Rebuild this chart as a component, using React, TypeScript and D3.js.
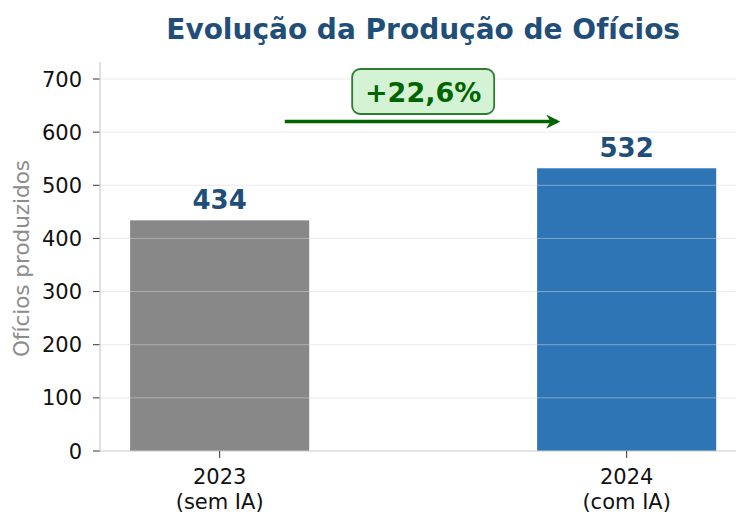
import React from "react";
import * as d3 from "d3";

const categories = ["2023\n(sem IA)", "2024\n(com IA)"];
const values = [434, 532];
const barColors = ["#888888", "#2e75b6"];
const yTicks = [0, 100, 200, 300, 400, 500, 600, 700];
const changeLabel = "+22,6%";
const title = "Evolução da Produção de Ofícios";
const yLabel = "Ofícios produzidos";

export default function App() {
  const W = 736, H = 512;
  const left = 100, bottom = 451, top = 62;
  const x = d3.scaleLinear().domain([-0.294, 1.3]).range([left, left + 1.594 * 407]);
  const y = d3.scaleLinear().domain([0, 732]).range([bottom, top]);
  const bw = 0.44;
  const font = "DejaVu Sans, sans-serif";
  const blue = "#1f4e79";
  const cx = (x(0) + x(1)) / 2;
  return (
    <svg width={W} height={H} style={{ position: "absolute", left: 0, top: 0 }} fontFamily={font}>
      <rect width={W} height={H} fill="#fff" />
      <text x={cx} y={39} textAnchor="middle" fontSize={28} fontWeight="bold" fill={blue}>{title}</text>
      {values.map((v, i) => (
        <rect key={i} x={x(i - bw / 2)} y={y(v)} width={x(bw) - x(0)} height={y(0) - y(v)} fill={barColors[i]} />
      ))}
      {yTicks.map((t) => (
        <g key={t}>
          {t > 0 && <line x1={left} x2={W} y1={y(t)} y2={y(t)} stroke="#d8d8d8" strokeOpacity={0.5} strokeWidth={1} />}
          <line x1={left - 7} x2={left} y1={y(t)} y2={y(t)} stroke="#333" strokeWidth={1} />
          <text x={left - 18} y={y(t)} dy="0.36em" textAnchor="end" fontSize={21} fill="#111">{t}</text>
        </g>
      ))}
      <line x1={left} x2={left} y1={top} y2={bottom} stroke="#cccccc" strokeWidth={1.2} />
      <line x1={left} x2={W} y1={bottom} y2={bottom} stroke="#cccccc" strokeWidth={1.2} />
      {categories.map((c, i) => (
        <g key={i}>
          <line x1={x(i)} x2={x(i)} y1={bottom} y2={bottom + 7} stroke="#333" strokeWidth={1} />
          {c.split("\n").map((s, j) => (
            <text key={j} x={x(i)} y={bottom + 33 + j * 25} textAnchor="middle" fontSize={21} fill="#111">{s}</text>
          ))}
        </g>
      ))}
      {values.map((v, i) => (
        <text key={i} x={x(i)} y={y(v) - 11} textAnchor="middle" fontSize={26} fontWeight="bold" fill={blue}>{v}</text>
      ))}
      <text transform={`translate(29,${(top + bottom) / 2 + 2}) rotate(-90)`} textAnchor="middle" fontSize={21.5} fill="#8c8c8c">{yLabel}</text>
      <defs>
        <marker id="ah" viewBox="0 0 10 10" refX={8} refY={5} markerWidth={4} markerHeight={4} orient="auto" markerUnits="strokeWidth">
          <path d="M0,0 L10,5 L0,10 L3,5 Z" fill="#006400" />
        </marker>
      </defs>
      <line x1={x(0.16)} x2={x(0.83)} y1={y(620)} y2={y(620)} stroke="#006400" strokeWidth={3.5} markerEnd="url(#ah)" />
      <rect x={cx - 71} y={69} width={142} height={45} rx={8} fill="#d4f2d4" stroke="#2e7d32" strokeWidth={1.8} />
      <text x={cx} y={92} dy="0.36em" textAnchor="middle" fontSize={27} fontWeight="bold" fill="#006400">{changeLabel}</text>
    </svg>
  );
}
